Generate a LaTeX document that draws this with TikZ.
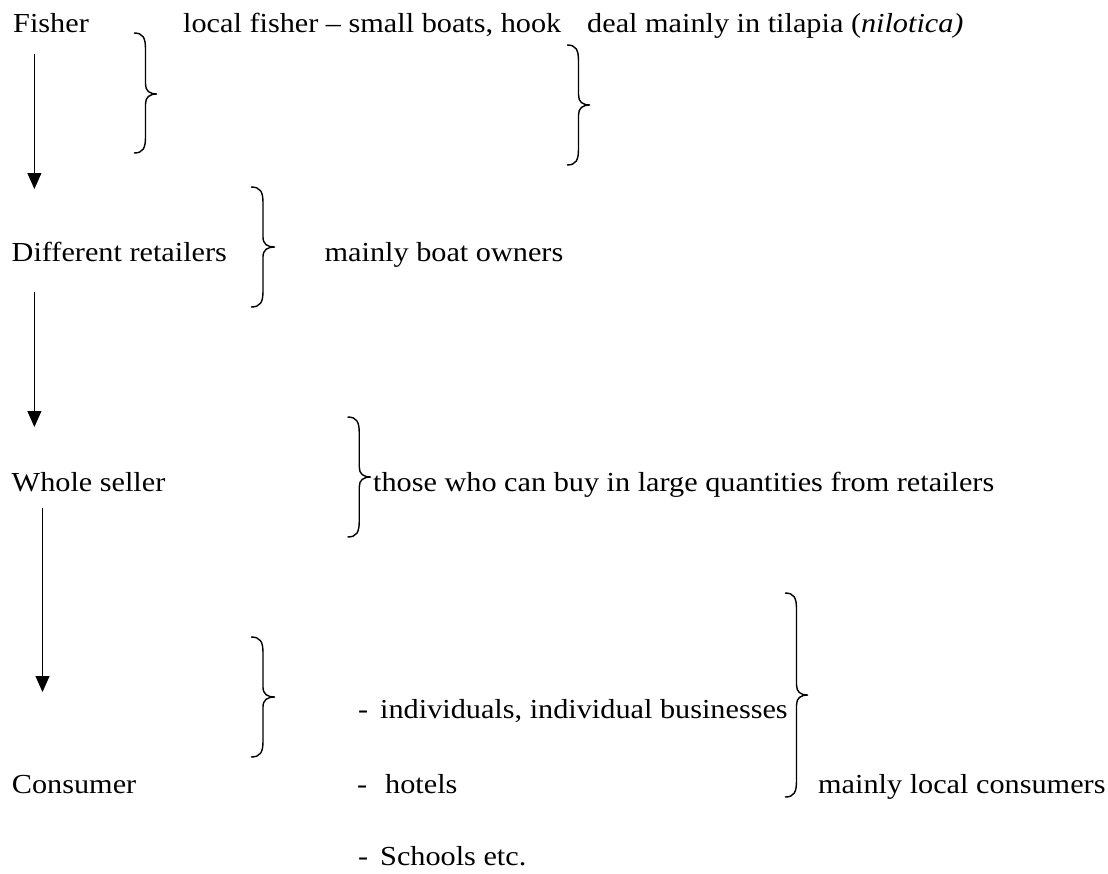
\documentclass[tikz,border=0pt]{standalone}
\usepackage{fontspec}
\setmainfont{Liberation Serif}[FakeStretch=1.10]
\usetikzlibrary{arrows.meta}
% right curly brace: #1 left x, #2 tip x, #3 top y, #4 bottom y, #5 tip y
\newcommand\mybrace[5]{%
  \draw[bracestyle]
    (#1,#3) .. controls ({#1+0.8*(#2-#1)/2},#3) and ({(#1+#2)/2},{#3+5}) .. ({(#1+#2)/2},{#3+16})
    -- ({(#1+#2)/2},{#5-10})
    .. controls ({(#1+#2)/2},{#5-3}) and ({(#1+#2)/2+4},{#5}) .. (#2,#5)
    .. controls ({(#1+#2)/2+4},{#5}) and ({(#1+#2)/2},{#5+3}) .. ({(#1+#2)/2},{#5+10})
    -- ({(#1+#2)/2},{#4-16})
    .. controls ({(#1+#2)/2},{#4-5}) and ({#1+0.8*(#2-#1)/2},#4) .. (#1,#4);}
\begin{document}
\begin{tikzpicture}[x=1pt,y=-1pt,
  txt/.style={anchor=base west, inner sep=0pt, font=\fontsize{27.5}{32}\selectfont},
  flow/.style={line width=1pt, -{Triangle[width=14pt,length=16pt]}},
  bracestyle/.style={line width=1.4pt}]
\useasboundingbox (0,0) rectangle (1108,873);
\fill[white] (0,0) rectangle (1108,873);
% texts
\node[txt] (fisher) at (13,32) {Fisher};
\node[txt] (local) at (183,32) {local fisher – small boats, hook};
\node[txt] (deal) at (587,32) {deal mainly in tilapia (\textit{nilotica)}};
\node[txt] (retail) at (11.5,261) {Different retailers};
\node[txt] (boat) at (324.5,261) {mainly boat owners};
\node[txt] (whole) at (11.5,491) {Whole seller};
\node[txt] (those) at (373,491) {those who can buy in large quantities from retailers};
\node[txt] (consumer) at (11.7,793) {Consumer};
\node[txt] (ind) at (358,718) {\makebox[22pt][l]{-}individuals, individual businesses};
\node[txt] (hotels) at (357,793) {\makebox[28pt][l]{-}hotels};
\node[txt] (schools) at (358,865) {\makebox[22pt][l]{-}Schools etc.};
\node[txt] (localc) at (818,793) {mainly local consumers};
% arrows
\coordinate (a1s) at (34.4,54);  \coordinate (a1e) at (34.4,189);
\coordinate (a2s) at (34.4,292); \coordinate (a2e) at (34.4,427);
\coordinate (a3s) at (42.5,508); \coordinate (a3e) at (42.5,692);
\draw[flow] (a1s) -- (a1e);
\draw[flow] (a2s) -- (a2e);
\draw[flow] (a3s) -- (a3e);
% braces
\mybrace{134}{157}{33}{153}{94}
\mybrace{567}{590}{45}{165}{105}
\mybrace{251}{275}{187}{307}{247}
\mybrace{347.5}{371}{417}{537}{477}
\mybrace{251}{275}{637}{757}{697}
\mybrace{785}{808}{593}{797}{695}
\end{tikzpicture}
\end{document}
